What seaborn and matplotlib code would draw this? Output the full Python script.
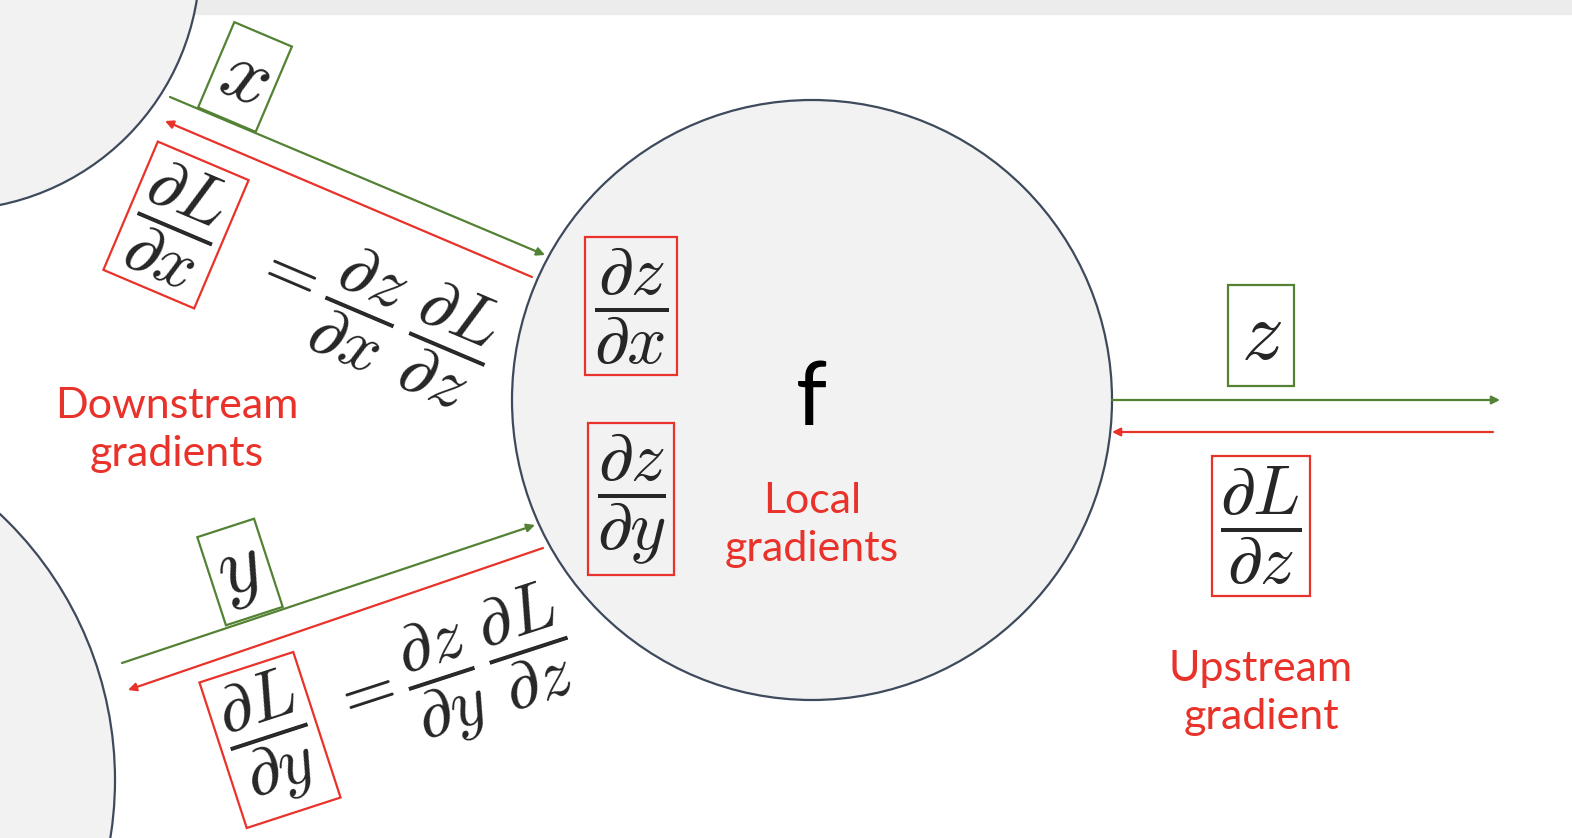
import numpy as np
import seaborn as sns
import matplotlib.pyplot as plt
from matplotlib.patches import Circle, Rectangle

sns.set_theme(style="white")
plt.rcParams["mathtext.fontset"] = "cm"
plt.rcParams["font.family"] = ["Lato", "DejaVu Sans"]

GREEN = "#548235"
RED = "#e8322a"
EDGE = "#3e4a5c"

# labels
inputs = ["$x$", "$y$"]
output = "$z$"
local_grads = [r"$\dfrac{\partial z}{\partial x}$", r"$\dfrac{\partial z}{\partial y}$"]
upstream = r"$\dfrac{\partial L}{\partial z}$"
down_boxed = [r"$\dfrac{\partial L}{\partial x}$", r"$\dfrac{\partial L}{\partial y}$"]
down_rest = [r"$=\dfrac{\partial z}{\partial x}\,\dfrac{\partial L}{\partial z}$",
             r"$=\dfrac{\partial z}{\partial y}\,\dfrac{\partial L}{\partial z}$"]
captions = ["Downstream\ngradients", "Local\ngradients", "Upstream\ngradient"]

W, H = 1572, 838
fig = plt.figure(figsize=(W / 100, H / 100), dpi=100)
ax = fig.add_axes([0, 0, 1, 1])
ax.set_xlim(0, W)
ax.set_ylim(H, 0)
ax.axis("off")

ax.add_patch(Rectangle((0, 0), W, 14, color="#ececec", zorder=0))

for c, r in [((812, 400), 300), ((-50, -40), 250), ((-250, 780), 365)]:
    ax.add_patch(Circle(c, r, facecolor="#f2f2f2", edgecolor=EDGE, lw=1.6, zorder=1))

def arrow(p0, p1, col):
    ax.annotate("", xy=p1, xytext=p0,
                arrowprops=dict(arrowstyle="-|>", color=col, lw=1.6,
                                mutation_scale=12, shrinkA=0, shrinkB=0), zorder=3)

arrow((170, 97), (545, 255), GREEN)
arrow((532, 277), (165, 121), RED)
arrow((122, 663), (535, 525), GREEN)
arrow((543, 548), (128, 690), RED)
arrow((1112, 400), (1500, 400), GREEN)
arrow((1493, 432), (1112, 432), RED)

def boxed(x, y, s, col, size, rot=0, pad=0.12):
    ax.text(x, y, s, fontsize=size, rotation=rot, ha="center", va="center",
            rotation_mode="anchor", zorder=4,
            bbox=dict(boxstyle=f"square,pad={pad}", facecolor="none", edgecolor=col, lw=1.6))

boxed(245, 77, inputs[0], GREEN, 60, -23, 0.1)
boxed(240, 572, inputs[1], GREEN, 60, 18, 0.1)
boxed(1261, 336, output, GREEN, 60, 0, 0.15)

boxed(631, 306, local_grads[0], RED, 50)
boxed(631, 499, local_grads[1], RED, 50)
boxed(1261, 526, upstream, RED, 50)

boxed(176, 225, down_boxed[0], RED, 50, -23)
boxed(270, 740, down_boxed[1], RED, 50, 18)
ax.text(370, 312, down_rest[0], fontsize=50, rotation=-23, ha="center", va="center",
        rotation_mode="anchor", zorder=4)
ax.text(452, 678, down_rest[1], fontsize=50, rotation=18, ha="center", va="center",
        rotation_mode="anchor", zorder=4)

ax.text(812, 400, "f", fontsize=64, ha="center", va="center", color="black", zorder=4)
for (x, y), s in zip([(177, 430), (812, 525), (1261, 693)], captions):
    ax.text(x, y, s, fontsize=31, ha="center", va="center", color=RED,
            linespacing=1.35, zorder=4)

fig.savefig("out.png", dpi=100)
